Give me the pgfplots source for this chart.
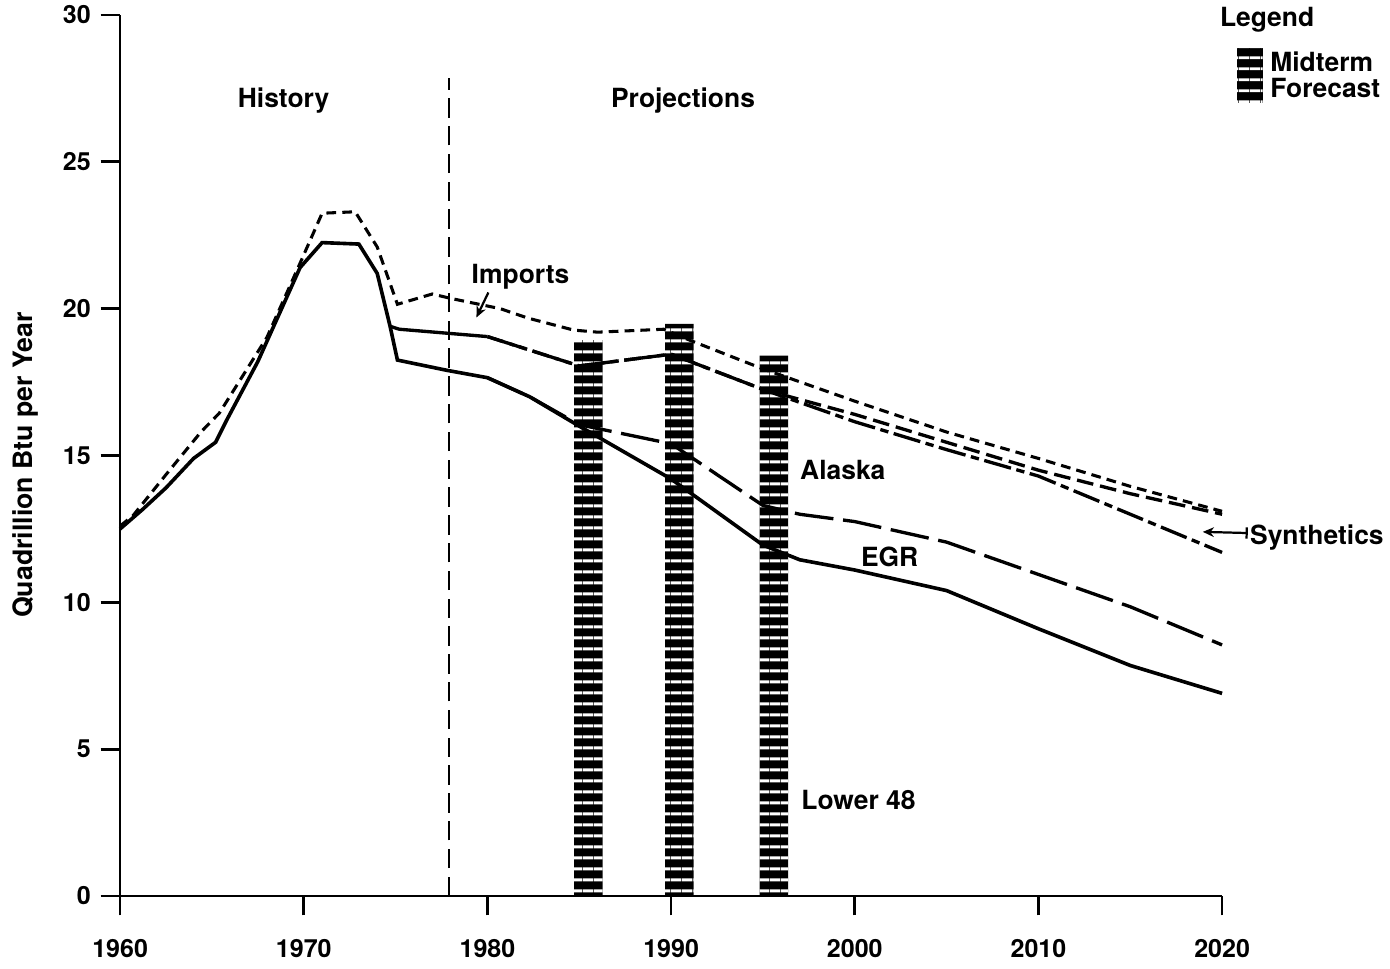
\documentclass[border=0pt]{standalone}
\usepackage{fontspec}
\setmainfont{TeX Gyre Heros}
\usepackage{pgfplots}
\pgfplotsset{compat=1.18}
\usetikzlibrary{patterns.meta,arrows.meta}

\newcommand{\lab}{\bfseries\fontsize{9.5}{11}\selectfont}
\newcommand{\tlab}{\bfseries\fontsize{9}{10}\selectfont}

\begin{document}
\begin{tikzpicture}
\useasboundingbox (-43.2pt,-25.9pt) rectangle (456.8pt,322.3pt);
\begin{axis}[
  at={(0,0)}, anchor=south west,
  scale only axis, width=396.4pt, height=316.9pt,
  xmin=1960, xmax=2020, ymin=0, ymax=30,
  axis x line*=bottom, axis y line*=left,
  axis line style={line width=1pt, -},
  xtick={1960,1970,...,2020}, ytick={0,5,...,30},
  tick align=outside, major tick length=7pt,
  tick style={line width=1pt, black},
  /pgf/number format/assume math mode=true,
  xticklabel style={/pgf/number format/1000 sep=, font=\tlab, yshift=-5pt},
  yticklabel style={font=\tlab},
  clip=false,
]
% Midterm forecast bars
\addplot[ybar, bar width=1.55, draw=none, fill=black,
  postaction={pattern={Lines[angle=0, distance=4pt, line width=1.1pt]}, pattern color=white}]
  coordinates {(1985.5,18.93) (1990.45,19.48) (1995.6,18.4)};

% history / projections divider
\addplot[black, line width=0.9pt, dash pattern=on 7pt off 3pt] coordinates {(1977.9,0) (1977.9,27.85)};

% Lower 48
\addplot[black, line width=1.3pt] coordinates {
(1960,12.5) (1961.2,13.15) (1962.5,13.9) (1964,14.9) (1965.2,15.45) (1965.8,16.2)
(1967.5,18.2) (1969.8,21.4) (1971,22.25) (1973,22.2) (1974,21.2) (1974.7,19.4)
(1975.1,18.25) (1977.8,17.9) (1980,17.65) (1982.3,17.0) (1985,16.0) (1990,14.2)
(1995,11.95) (1997,11.45) (2000,11.1) (2005,10.4) (2010,9.1) (2015,7.85) (2020,6.9)};

% EGR
\addplot[black, line width=1.2pt, dash pattern=on 14pt off 3.5pt] coordinates {
(1980,17.65) (1982.3,17.0) (1985,16.05) (1990,15.4) (1995,13.3) (1997,13.0)
(2000,12.75) (2005,12.05) (2010,10.95) (2015,9.85) (2020,8.55)};

% Alaska
\addplot[black, line width=1.2pt] coordinates {(1974.7,19.4) (1975.2,19.3) (1980,19.05)};
\addplot[black, line width=1.2pt, dash pattern=on 10pt off 2pt on 3pt off 2pt] coordinates {
(1980,19.05) (1985,18.05) (1990,18.45) (1995,17.25) (2000,16.15) (2005,15.2)
(2010,14.3) (2015,13.0) (2020,11.7)};

% Synthetics
\addplot[black, line width=1.2pt, dash pattern=on 6pt off 2.5pt] coordinates {
(1980,19.05) (1985,18.05) (1990,18.45) (1995,17.25) (2000,16.4) (2005,15.45)
(2010,14.5) (2015,13.7) (2020,13.0)};

% Imports
\addplot[black, line width=1.1pt, dash pattern=on 3.5pt off 2.2pt] coordinates {
(1960,12.6) (1960.7,12.95) (1962.5,14.35) (1964.4,15.8) (1965.4,16.44) (1968,19.03)
(1969.8,21.55) (1971,23.25) (1972.8,23.3) (1974,22.1) (1975.1,20.15) (1977,20.5)
(1978,20.35) (1980.7,20.0) (1982.2,19.68) (1984.7,19.27) (1986,19.2) (1989.6,19.3)
(1991,18.93) (1995,17.95) (2000,16.85) (2005,15.8) (2010,14.9) (2015,13.95) (2020,13.1)};

% labels
\node[font=\lab] at (axis cs:1968.9,27.1) {History};
\node[font=\lab] at (axis cs:1990.65,27.1) {Projections};
\node[font=\lab] at (axis cs:1981.8,21.1) {Imports};
\draw[line width=0.8pt, -{Stealth[length=4pt,width=3.5pt]}] (axis cs:1980.05,20.55) -- (axis cs:1979.4,19.7);
\node[font=\lab] at (axis cs:1999.35,14.5) {Alaska};
\node[font=\lab] at (axis cs:2001.9,11.55) {EGR};
\node[font=\lab] at (axis cs:2000.2,3.27) {Lower 48};
\node[font=\lab, anchor=west, inner sep=0pt] at (axis cs:2021.5,12.2) {Synthetics};
\draw[line width=0.8pt, {Stealth[length=4pt,width=3.5pt]}-{Bar[width=4pt]}] (axis cs:2018.95,12.4) -- (axis cs:2021.4,12.36);

% legend
\node[font=\lab] at (axis cs:2022.45,29.83) {Legend};
\fill[black, postaction={pattern={Lines[angle=0, distance=4pt, line width=1.1pt]}, pattern color=white}]
  (axis cs:2020.8,27.0) rectangle (axis cs:2022.2,28.87);
\node[font=\lab, anchor=west, inner sep=0pt] at (axis cs:2022.6,28.4) {Midterm};
\node[font=\lab, anchor=west, inner sep=0pt] at (axis cs:2022.6,27.5) {Forecast};

% y label
\node[font=\bfseries\fontsize{9.6}{11}\selectfont, rotate=90] at ([xshift=-34pt]axis cs:1960,14.67) {Quadrillion Btu per Year};
\end{axis}
\end{tikzpicture}
\end{document}
